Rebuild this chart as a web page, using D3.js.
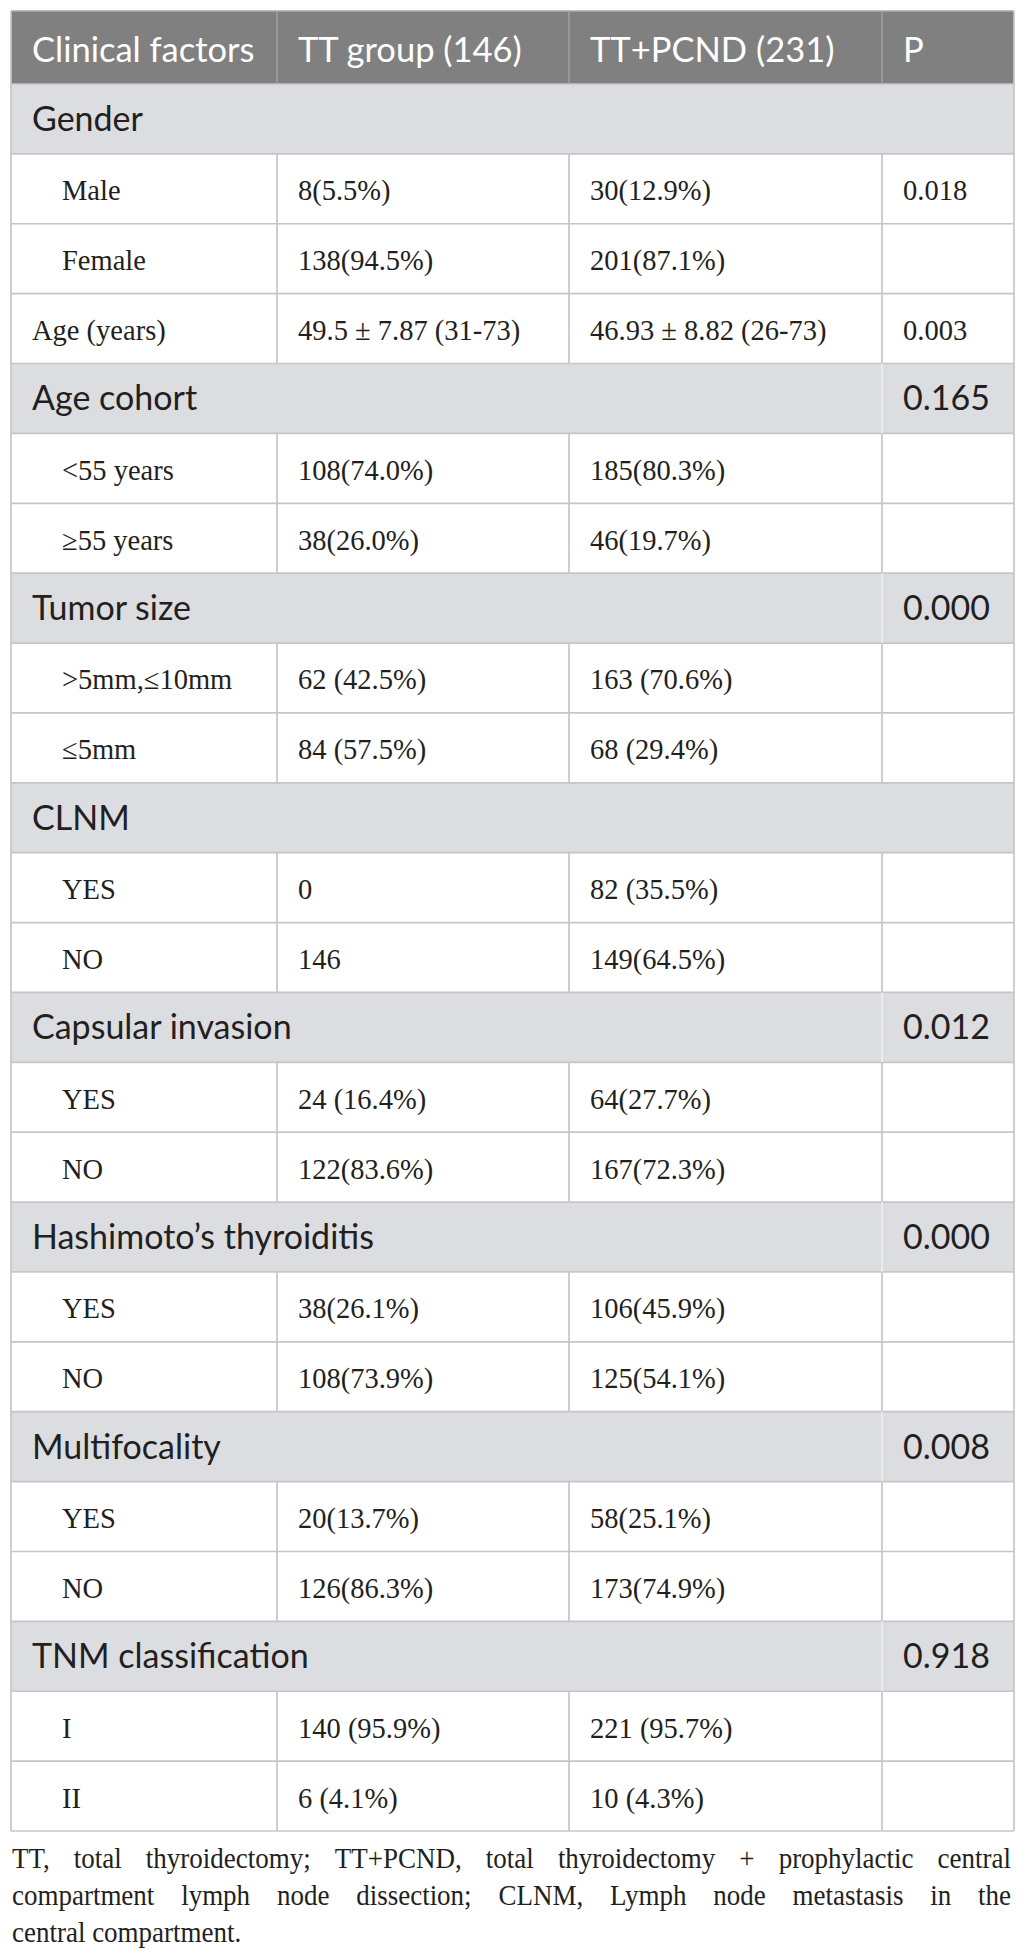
<!DOCTYPE html>
<html>
<head>
<meta charset="utf-8">
<script src="https://cdn.jsdelivr.net/npm/d3@7"></script>
<style>
  html, body { margin: 0; padding: 0; background: #ffffff; }
  svg { display: block; }
</style>
</head>
<body>
<div id="chart"></div>
<script>
// ---------- DATA ----------
const headerLabels = ["Clinical factors", "TT group (146)", "TT+PCND (231)", "P"];

const rowLabels = [
  "Gender", "Male", "Female", "Age (years)",
  "Age cohort", "<55 years", "≥55 years",
  "Tumor size", ">5mm,≤10mm", "≤5mm",
  "CLNM", "YES", "NO",
  "Capsular invasion", "YES", "NO",
  "Hashimoto’s thyroiditis", "YES", "NO",
  "Multifocality", "YES", "NO",
  "TNM classification", "I", "II"
];

const rowKinds = [
  "group", "item", "item", "plain",
  "group", "item", "item",
  "group", "item", "item",
  "group", "item", "item",
  "group", "item", "item",
  "group", "item", "item",
  "group", "item", "item",
  "group", "item", "item"
];

const ttValues = [
  "", "8(5.5%)", "138(94.5%)", "49.5 ± 7.87 (31-73)",
  "", "108(74.0%)", "38(26.0%)",
  "", "62 (42.5%)", "84 (57.5%)",
  "", "0", "146",
  "", "24 (16.4%)", "122(83.6%)",
  "", "38(26.1%)", "108(73.9%)",
  "", "20(13.7%)", "126(86.3%)",
  "", "140 (95.9%)", "6 (4.1%)"
];

const pcndValues = [
  "", "30(12.9%)", "201(87.1%)", "46.93 ± 8.82 (26-73)",
  "", "185(80.3%)", "46(19.7%)",
  "", "163 (70.6%)", "68 (29.4%)",
  "", "82 (35.5%)", "149(64.5%)",
  "", "64(27.7%)", "167(72.3%)",
  "", "106(45.9%)", "125(54.1%)",
  "", "58(25.1%)", "173(74.9%)",
  "", "221 (95.7%)", "10 (4.3%)"
];

const pValues = [
  "", "0.018", "", "0.003",
  "0.165", "", "",
  "0.000", "", "",
  "", "", "",
  "0.012", "", "",
  "0.000", "", "",
  "0.008", "", "",
  "0.918", "", ""
];

const footnoteLines = [
  "TT, total thyroidectomy; TT+PCND, total thyroidectomy + prophylactic central",
  "compartment lymph node dissection; CLNM, Lymph node metastasis in the",
  "central compartment."
];

// ---------- LAYOUT ----------
const W = 1026, H = 1955;
const colEdges = [11, 277, 569, 882, 1014];
const headerTop = 11, headerBottom = 84, tableBottom = 1831;
const padX = 21;

const sansFont = "Lato, 'Open Sans', sans-serif";
const serifFont = "'Liberation Serif', 'DejaVu Serif', serif";
const textColor = "#231f20";
const gridColor = "#c6c6c6";
const bodySize = 28.5;

const svg = d3.select("#chart").append("svg")
  .attr("width", W).attr("height", H);

const y = d3.scaleBand()
  .domain(d3.range(rowLabels.length))
  .range([headerBottom, tableBottom])
  .padding(0);

const rows = rowLabels.map((label, i) => ({
  i, label, kind: rowKinds[i], tt: ttValues[i], pcnd: pcndValues[i], p: pValues[i]
}));

// header background
svg.append("rect")
  .attr("x", colEdges[0]).attr("y", headerTop)
  .attr("width", colEdges[4] - colEdges[0]).attr("height", headerBottom - headerTop)
  .attr("fill", "#808080");

// group row backgrounds
svg.append("g").selectAll("rect")
  .data(rows.filter(d => d.kind === "group"))
  .join("rect")
  .attr("x", colEdges[0])
  .attr("y", d => y(d.i))
  .attr("width", colEdges[4] - colEdges[0])
  .attr("height", y.bandwidth())
  .attr("fill", "#dcdde0");

// horizontal grid lines
const hLines = [headerTop].concat(d3.range(rowLabels.length + 1).map(i => i < rowLabels.length ? y(i) : tableBottom));
svg.append("g").selectAll("line")
  .data(hLines)
  .join("line")
  .attr("x1", colEdges[0]).attr("x2", colEdges[4])
  .attr("y1", d => d).attr("y2", d => d)
  .attr("stroke", (d, i) => i === 0 ? "#a8a8a8" : gridColor)
  .attr("stroke-width", 1.7);

// outer vertical borders
svg.append("g").selectAll("line")
  .data([colEdges[0], colEdges[4]])
  .join("line")
  .attr("x1", d => d).attr("x2", d => d)
  .attr("y1", headerTop).attr("y2", tableBottom)
  .attr("stroke", gridColor).attr("stroke-width", 1.7);

// header inner dividers
svg.append("g").selectAll("line")
  .data(colEdges.slice(1, 4))
  .join("line")
  .attr("x1", d => d).attr("x2", d => d)
  .attr("y1", headerTop).attr("y2", headerBottom)
  .attr("stroke", "#a3a3a3").attr("stroke-width", 1.4);

// body inner dividers (per row)
const segs = [];
rows.forEach(d => {
  const cols = d.kind === "group" ? (d.p ? [3] : []) : [1, 2, 3];
  cols.forEach(c => segs.push({ x: colEdges[c], y0: y(d.i), y1: y(d.i) + y.bandwidth(), group: d.kind === "group" }));
});
svg.append("g").selectAll("line")
  .data(segs)
  .join("line")
  .attr("x1", d => d.x).attr("x2", d => d.x)
  .attr("y1", d => d.y0).attr("y2", d => d.y1)
  .attr("stroke", d => d.group ? "#eeeeee" : gridColor)
  .attr("stroke-width", 1.7);

// header text
svg.append("g").selectAll("text")
  .data(headerLabels)
  .join("text")
  .attr("x", (d, i) => colEdges[i] + padX)
  .attr("y", 62)
  .attr("font-family", sansFont)
  .attr("font-size", 34.5)
  .attr("fill", "#ffffff")
  .text(d => d);

// body text
const rowG = svg.append("g").selectAll("g")
  .data(rows)
  .join("g")
  .attr("transform", d => `translate(0,${y(d.i) + y.bandwidth() / 2})`);

rowG.append("text")
  .attr("x", d => d.kind === "item" ? 62 : 32)
  .attr("y", d => d.kind === "group" ? 12 : 11.5)
  .attr("font-family", d => d.kind === "group" ? sansFont : serifFont)
  .attr("font-size", d => d.kind === "group" ? 34 : bodySize)
  .attr("fill", textColor)
  .text(d => d.label);

rowG.append("text")
  .attr("x", colEdges[1] + padX).attr("y", 11.5)
  .attr("font-family", serifFont).attr("font-size", bodySize)
  .attr("fill", textColor)
  .text(d => d.tt);

rowG.append("text")
  .attr("x", colEdges[2] + padX).attr("y", 11.5)
  .attr("font-family", serifFont).attr("font-size", bodySize)
  .attr("fill", textColor)
  .text(d => d.pcnd);

rowG.append("text")
  .attr("x", colEdges[3] + padX)
  .attr("y", d => d.kind === "group" ? 12 : 11.5)
  .attr("font-family", d => d.kind === "group" ? sansFont : serifFont)
  .attr("font-size", d => d.kind === "group" ? 34 : bodySize)
  .attr("fill", textColor)
  .text(d => d.p);

// footnote, justified (condensed serif look)
const fnLeft = 12, fnRight = 1011, fnScale = 0.9;
const fnBase = [1868, 1905, 1942];
const fnG = svg.append("g")
  .attr("transform", `translate(${fnLeft},0) scale(${fnScale},1)`)
  .attr("font-family", serifFont)
  .attr("font-size", 30)
  .attr("fill", textColor);

const fnWidthLocal = (fnRight - fnLeft) / fnScale;
footnoteLines.forEach((line, li) => {
  const words = line.split(" ");
  const tmp = fnG.selectAll(null).data(words).join("text")
    .attr("y", fnBase[li]).text(w => w);
  const widths = [];
  tmp.each(function () { widths.push(this.getComputedTextLength()); });
  const total = d3.sum(widths);
  const justify = li < footnoteLines.length - 1;
  const gap = justify ? (fnWidthLocal - total) / (words.length - 1) : 7.5;
  let xPos = 0;
  tmp.attr("x", (w, i) => {
    const v = xPos;
    xPos += widths[i] + gap;
    return v;
  });
});
</script>
</body>
</html>
